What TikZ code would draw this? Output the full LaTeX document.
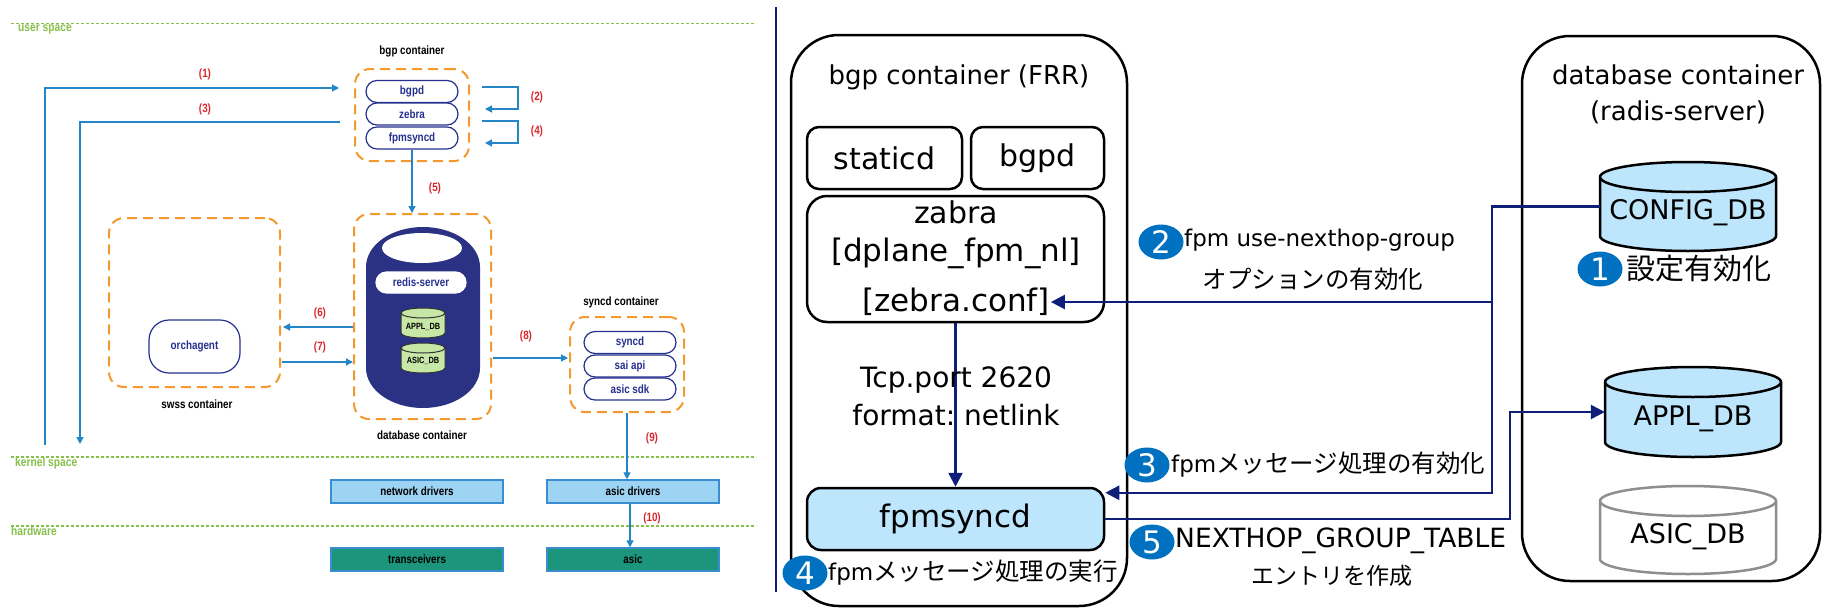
\documentclass[tikz,border=0pt]{standalone}
\usepackage{fontspec}
\usetikzlibrary{arrows.meta,shapes.geometric,calc}
\newfontfamily\narrowsans[FakeStretch=0.82]{Liberation Sans}
\newfontfamily\widesans{DejaVu Sans}
\newfontfamily\jpsans{Noto Sans CJK JP}
\newcommand\fsz[1]{\fontsize{#1}{1.2\dimexpr #1pt\relax}\selectfont}
\newcommand\fszlead[2]{\fontsize{#1}{#2}\selectfont}

\definecolor{orangec}{HTML}{F39A2E}
\definecolor{lblue}{HTML}{2286C8}
\definecolor{pillc}{HTML}{25308F}
\definecolor{lgreen}{HTML}{86C04A}
\definecolor{numred}{HTML}{D9262E}
\definecolor{capsule}{HTML}{2B3283}
\definecolor{dbgreen}{HTML}{C7E7A6}
\definecolor{drvfill}{HTML}{9DD3F3}
\definecolor{drvline}{HTML}{3A8ED0}
\definecolor{hwfill}{HTML}{1B957B}
\definecolor{navyc}{HTML}{0F1E78}
\definecolor{badgec}{HTML}{0070C0}
\definecolor{paleblue}{HTML}{BDE6FC}
\definecolor{dbgray}{HTML}{8E8E8E}

% cylinder: x1, x2, y top, y bottom, y radius, style
\newcommand\cyl[6]{%
  \pgfmathsetmacro\cylrx{(#2-#1)/2}%
  \draw[#6] (#1,-#3-#5) -- (#1,-#4+#5)
     arc[start angle=180,end angle=360,x radius=\cylrx,y radius=#5]
     -- (#2,-#3-#5)
     arc[start angle=0,end angle=180,x radius=\cylrx,y radius=#5] -- cycle;
  \draw[#6,fill=none] (#1,-#3-#5)
     arc[start angle=180,end angle=360,x radius=\cylrx,y radius=#5];
}

\begin{document}
\begin{tikzpicture}[x=1pt,y=1pt,
  lbl/.style={inner sep=0pt,font=\narrowsans\bfseries\fsz{12}},
  num/.style={lbl,text=numred},
  layertext/.style={inner sep=0pt,text=lgreen,font=\narrowsans\bfseries\fsz{12.5}},
  layerline/.style={draw=lgreen,line width=1.4pt,dash pattern=on 3pt off 2pt},
  obox/.style={draw=orangec,line width=2pt,dash pattern=on 10pt off 6pt,rounded corners=15pt,inner sep=0pt},
  pill/.style={draw=pillc,line width=1.2pt,fill=white,rounded corners=11pt,minimum width=92pt,minimum height=22pt,inner sep=0pt,text=pillc,font=\narrowsans\bfseries\fsz{12}},
  larrow/.style={draw=lblue,line width=1.3pt,-{Triangle[length=7pt,width=7pt]}},
  drvbox/.style={draw=drvline,fill=drvfill,line width=1.5pt,minimum width=172pt,minimum height=23pt,inner sep=0pt,font=\narrowsans\bfseries\fsz{12}},
  hwbox/.style={drvbox,fill=hwfill},
  dblbl/.style={inner sep=0pt,font=\narrowsans\bfseries\fsz{9}},
  rbox/.style={draw=black,line width=2.5pt,inner sep=0pt},
  rtxt/.style={inner sep=0pt,text=black,font=\widesans\fsz{26}},
  boxtxt/.style={inner sep=0pt,text=black,font=\widesans\fsz{30}},
  navline/.style={draw=navyc,line width=2.5pt},
  navarrow/.style={navline,-{Triangle[length=14pt,width=14pt]}},
  badge/.style={ellipse,fill=badgec,minimum width=45pt,minimum height=35pt,inner sep=0pt},
  badgenum/.style={inner sep=0pt,text=white,font=\widesans\fsz{31}},
  anchorbox/.style={inner sep=0pt,draw=none}
]
\useasboundingbox (0,-608) rectangle (1824,0);
\fill[white] (0,-608) rectangle (1824,0);

% ---------------- layers ----------------
\draw[layerline] (11,-23.5) -- (756,-23.5);
\node[layertext,anchor=west] (us) at (18,-29) {user space};
\draw[layerline] (11,-457) -- (756,-457);
\node[layertext,anchor=west] (ks) at (15,-463) {kernel space};
\draw[layerline] (11,-526) -- (756,-526);
\node[layertext,anchor=west] (hwl) at (11,-531) {hardware};

% ---------------- bgp container ----------------
\node[lbl] (bgplbl) at (412,-51) {bgp container};
\node[obox,minimum width=114pt,minimum height=92pt] (bgpbox) at (412,-115) {};
\node[pill] (bgpd) at (412,-91.5) {bgpd};
\node[pill] (zebra) at (412,-114) {zebra};
\node[pill] (fpms) at (412,-138) {fpmsyncd};

\coordinate (k1) at (45,-445);
\coordinate (k3) at (80,-444);
\draw[larrow] (k1) |- ($(bgpbox.west)+(-15,27)$);
\node[num] at (205,-74) {(1)};
\draw[larrow] ($(bgpbox.west)+(-14,-7)$) -| (k3);
\node[num] at (205,-109) {(3)};
\draw[larrow] ($(bgpbox.east)+(12,28)$) -- ++(36,0) -- ++(0,-22) -- ++(-33,0);
\node[num] at (537,-97) {(2)};
\draw[larrow] ($(bgpbox.east)+(12,-6)$) -- ++(36,0) -- ++(0,-22) -- ++(-33,0);
\node[num] at (537,-131) {(4)};

% ---------------- database container ----------------
\node[obox,minimum width=137pt,minimum height=205pt] (dbbox) at (422.5,-316.5) {};
\draw[larrow] (fpms.south) -- (fpms.south |- dbbox.north);
\node[num] at (435,-188) {(5)};
\fill[capsule] (366,-267) arc[start angle=180,end angle=0,x radius=57,y radius=40]
   -- (480,-368) arc[start angle=0,end angle=-180,x radius=57,y radius=40] -- cycle;
\fill[white] (422,-248) ellipse [x radius=40,y radius=15];
\node[pill,draw=white,minimum width=90pt,minimum height=21pt,rounded corners=10.5pt] (redis) at (421,-282.5) {redis-server};
\cyl{401}{445}{308}{338}{5}{draw=black!80,fill=dbgreen,line width=1pt}
\node[dblbl] (appldb) at (423,-327) {APPL\_DB};
\cyl{401}{445}{343}{373}{5}{draw=black!80,fill=dbgreen,line width=1pt}
\node[dblbl] (asicdb) at (423,-361) {ASIC\_DB};
\node[lbl] (dblbl) at (422,-435) {database container};

% ---------------- swss container ----------------
\node[obox,minimum width=171pt,minimum height=169pt] (swss) at (194.5,-302.5) {};
\node[draw=pillc,line width=1.2pt,rounded corners=20pt,minimum width=91pt,minimum height=53pt,inner sep=0pt,text=pillc,font=\narrowsans\bfseries\fsz{12}] (orch) at (194.5,-346.5) {orchagent};
\node[lbl] (swsslbl) at (197,-404) {swss container};
\draw[larrow] ($(dbbox.west)+(0,-10.5)$) -- ($(swss.east)+(2,-24.5)$);
\node[num] at (320,-313) {(6)};
\draw[larrow] ($(swss.east)+(1,-59.5)$) -- ($(dbbox.west)+(0,-45.5)$);
\node[num] at (320,-347) {(7)};

% ---------------- syncd container ----------------
\node[lbl] (syncdlbl) at (621,-302) {syncd container};
\node[obox,minimum width=114pt,minimum height=95pt] (syncdbox) at (627,-364.5) {};
\node[pill] (syncd) at (630,-342.5) {syncd};
\node[pill] (saiapi) at (630,-366) {sai api};
\node[pill] (asicsdk) at (630,-389) {asic sdk};
\draw[larrow] ($(dbbox.east)+(1,-41.5)$) -- ($(syncdbox.west)+(-1,6.5)$);
\node[num] at (526,-336) {(8)};

% ---------------- kernel / hardware ----------------
\node[drvbox] (netdrv) at (417,-491.5) {network drivers};
\node[drvbox] (asicdrv) at (633,-491.5) {asic drivers};
\node[hwbox] (trans) at (417,-559.5) {transceivers};
\node[hwbox] (asic) at (633,-559.5) {asic};
\draw[larrow] (syncdbox.south) -- (syncdbox.south |- asicdrv.north);
\node[num] at (652,-438) {(9)};
\draw[larrow] ($(asicdrv.south)+(-3,0)$) -- ($(asic.north)+(-3,0)$);
\node[num] at (652,-518) {(10)};

% divider
\draw[navyc,line width=2.5pt] (776,-7) -- (776,-592);

% ---------------- bgp container (FRR) ----------------
\node[rbox,rounded corners=48pt,minimum width=336pt,minimum height=571pt] (frr) at (959,-320.5) {};
\node[rtxt] (frrlbl) at (959,-77) {bgp container (FRR)};
\node[rbox,rounded corners=12pt,minimum width=155pt,minimum height=62pt] (staticd) at (884.5,-158) {};
\node[boxtxt] at (staticd) {staticd};
\node[rbox,rounded corners=12pt,minimum width=133pt,minimum height=62pt] (bgpd2) at (1037.5,-158) {};
\node[boxtxt] at (bgpd2) {bgpd};
\node[rbox,rounded corners=20pt,minimum width=297pt,minimum height=126pt] (zabra) at (955.5,-259) {};
\node[boxtxt] (zt1) at (956,-212) {zabra};
\node[boxtxt,font={\widesans\fsz{31}}] (zt2) at (956,-253) {[dplane\_fpm\_nl]};
\node[boxtxt,font={\widesans\fsz{31}},inner sep=1pt] (zconf) at (956,-302) {[zebra.conf]};
\node[rbox,fill=paleblue,rounded corners=14pt,minimum width=297pt,minimum height=62pt] (fpmsyncd) at (955.5,-519) {};
\node[boxtxt,font={\widesans\fsz{31}}] at (fpmsyncd) {fpmsyncd};
\draw[navarrow] (zabra.south) -- (fpmsyncd.north);
\node[rtxt,align=center,font={\widesans\fszlead{28}{38}}] (tcp) at (956,-396) {Tcp.port 2620\\format:\ netlink};

% ---------------- database container (redis) ----------------
\node[rbox,rounded corners=48pt,minimum width=298pt,minimum height=545pt] (dbc) at (1671,-308.5) {};
\node[rtxt,align=center,font={\widesans\fszlead{26}{36}}] (dbclbl) at (1678,-94) {database container\\(radis-server)};
\cyl{1600}{1776}{162}{251}{15}{draw=black,fill=paleblue,line width=2.5pt}
\node[anchorbox,minimum width=176pt,minimum height=89pt] (config) at (1688,-206.5) {};
\node[rtxt,font={\widesans\fsz{27}}] at (1688,-213) {CONFIG\_DB};
\cyl{1605}{1781}{367}{457}{15}{draw=black,fill=paleblue,line width=2.5pt}
\node[anchorbox,minimum width=176pt,minimum height=90pt] (appl) at (1693,-412) {};
\node[rtxt,font={\widesans\fsz{27}}] at (1693,-419) {APPL\_DB};
\cyl{1600}{1776}{486}{574}{15}{draw=dbgray,fill=white,line width=2.5pt}
\node[anchorbox,minimum width=176pt,minimum height=88pt] (asicdb2) at (1688,-530) {};
\node[rtxt,font={\widesans\fsz{27}}] at (1688,-537) {ASIC\_DB};

% ---------------- connectors ----------------
\coordinate (jx) at (1492,0);
\coordinate (jx2) at (1510,0);
\draw[navarrow] (config.west) -| ($(jx |- fpmsyncd.north east)+(0,-6)$) -- ($(fpmsyncd.north east)+(0,-6)$);
\draw[navarrow] (jx |- zconf.east) -- (zconf.east);
\draw[navarrow] (fpmsyncd.east) -- (fpmsyncd.east -| jx2) |- (appl.west);

% ---------------- step badges ----------------
\node[badge] (b1) at (1600,-269) {};
\node[badgenum] at (b1) {1};
\node[rtxt,anchor=west,font={\jpsans\fsz{29}}] (t1) at (1626,-269) {設定有効化};

\node[badge] (b2) at (1161,-242) {};
\node[badgenum] at (b2) {2};
\node[rtxt,anchor=west,font={\widesans\fsz{23}}] (t2) at (1184,-240) {fpm use-nexthop-group};
\node[rtxt,font={\jpsans\fsz{24.5}}] (t2b) at (1313,-279) {オプションの有効化};

\node[badge] (b3) at (1147,-465) {};
\node[badgenum] at (b3) {3};
\node[rtxt,anchor=west,font={\widesans\fsz{23}}] (t3) at (1171,-465) {fpm{\jpsans\fsz{24.5}メッセージ処理の有効化}};

\node[badge] (b4) at (805,-573) {};
\node[badgenum] at (b4) {4};
\node[rtxt,anchor=west,font={\widesans\fsz{23}}] (t4) at (828,-573) {fpm{\jpsans\fsz{24.5}メッセージ処理の実行}};

\node[badge] (b5) at (1152,-542) {};
\node[badgenum] at (b5) {5};
\node[rtxt,anchor=west,font={\widesans\fsz{26.5}}] (t5) at (1175,-541) {NEXTHOP\_GROUP\_TABLE};
\node[rtxt,font={\jpsans\fsz{23}}] (t5b) at (1332,-576) {エントリを作成};
\end{tikzpicture}
\end{document}
